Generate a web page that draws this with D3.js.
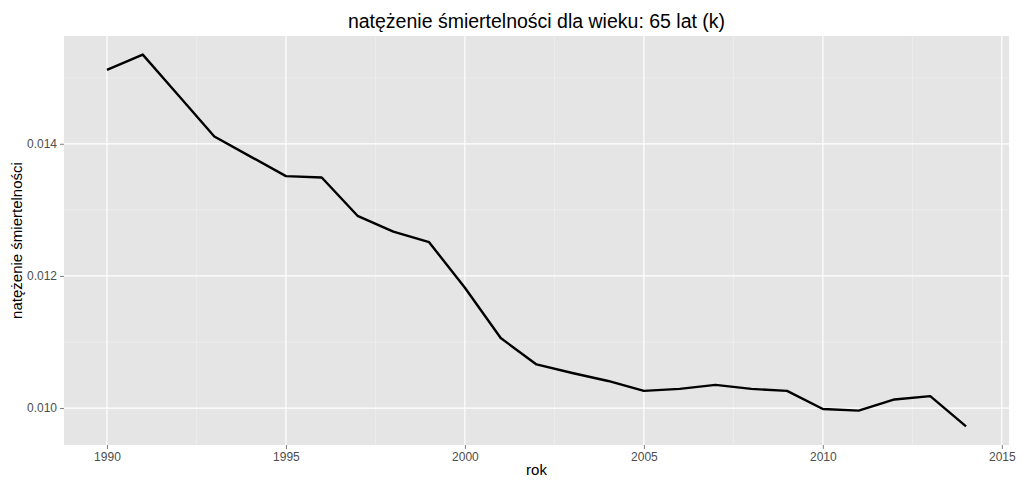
<!DOCTYPE html>
<html>
<head>
<meta charset="utf-8">
<script src="https://cdn.jsdelivr.net/npm/d3@7"></script>
<style>
  body { margin: 0; background: #fff; }
  text { font-family: "Liberation Sans", Arial, sans-serif; }
</style>
</head>
<body>
<div id="chart"></div>
<script>
// lata i natężenie zgonów
const years = [1990, 1991, 1992, 1993, 1994, 1995, 1996, 1997, 1998, 1999,
               2000, 2001, 2002, 2003, 2004, 2005, 2006, 2007, 2008, 2009,
               2010, 2011, 2012, 2013, 2014];
const rates = [0.01512, 0.01535, 0.01473, 0.01411, 0.01381, 0.01351, 0.01349, 0.01291, 0.01267, 0.01251,
               0.01182, 0.01106, 0.01066, 0.01053, 0.01041, 0.01026, 0.01029, 0.01035, 0.01029, 0.01026,
               0.009985, 0.009961, 0.01013, 0.01018, 0.009722];
const xTicks = [1990, 1995, 2000, 2005, 2010, 2015];
const yTicks = [0.010, 0.012, 0.014];
const xMinor = [1992.5, 1997.5, 2002.5, 2007.5, 2012.5];
const yMinor = [0.009, 0.011, 0.013, 0.015];

const data = years.map((y, i) => ({rok: y, v: rates[i]}));

const W = 1024, H = 487;
const margin = {top: 36, right: 15, bottom: 42, left: 64},
    width = W - margin.left - margin.right,
    height = H - margin.top - margin.bottom;

// rozszerzenie skal o 5% jak w ggplot
const xr = d3.extent(years), yr = d3.extent(rates);
const xp = (xr[1] - xr[0]) * 0.05, yp = (yr[1] - yr[0]) * 0.05;

const x = d3.scaleLinear()
    .domain([xr[0] - xp, xr[1] + xp])
    .range([0, width]);
const y = d3.scaleLinear()
    .domain([yr[0] - yp, yr[1] + yp])
    .range([height, 0]);

const svg = d3.select("#chart").append("svg")
    .attr("width", W)
    .attr("height", H);

const g = svg.append("g")
    .attr("transform", "translate(" + margin.left + "," + margin.top + ")");

// tło panelu
g.append("rect")
    .attr("width", width)
    .attr("height", height)
    .attr("fill", "#e5e5e5");

// siatka pomocnicza
g.selectAll(".xminor").data(xMinor).enter().append("line")
    .attr("x1", d => x(d)).attr("x2", d => x(d))
    .attr("y1", 0).attr("y2", height)
    .attr("stroke", "#f2f2f2").attr("stroke-width", 0.6);
g.selectAll(".yminor").data(yMinor.filter(d => d > y.domain()[0] && d < y.domain()[1])).enter().append("line")
    .attr("x1", 0).attr("x2", width)
    .attr("y1", d => y(d)).attr("y2", d => y(d))
    .attr("stroke", "#f2f2f2").attr("stroke-width", 0.6);

// siatka główna
g.selectAll(".xmajor").data(xTicks).enter().append("line")
    .attr("x1", d => x(d)).attr("x2", d => x(d))
    .attr("y1", 0).attr("y2", height)
    .attr("stroke", "#fff").attr("stroke-width", 1.2);
g.selectAll(".ymajor").data(yTicks).enter().append("line")
    .attr("x1", 0).attr("x2", width)
    .attr("y1", d => y(d)).attr("y2", d => y(d))
    .attr("stroke", "#fff").attr("stroke-width", 1.2);

// osie
const xAxis = g.append("g")
    .attr("transform", "translate(0," + height + ")")
    .call(d3.axisBottom(x).tickValues(xTicks).tickFormat(d3.format("d")).tickSize(4).tickPadding(3));
const yAxis = g.append("g")
    .call(d3.axisLeft(y).tickValues(yTicks).tickFormat(d3.format(".3f")).tickSize(4).tickPadding(3));

[xAxis, yAxis].forEach(a => {
    a.select(".domain").remove();
    a.selectAll(".tick line").attr("stroke", "#7f7f7f");
    a.selectAll(".tick text")
        .attr("fill", "#4d4d4d")
        .style("font-size", "12px")
        .style("font-family", "'Liberation Sans', Arial, sans-serif");
});

// linia
const line = d3.line()
    .x(d => x(d.rok))
    .y(d => y(d.v));

g.append("path")
    .datum(data)
    .attr("fill", "none")
    .attr("stroke", "#000")
    .attr("stroke-width", 2.4)
    .attr("stroke-linejoin", "round")
    .attr("d", line);

// tytuły
svg.append("text")
    .attr("x", margin.left + width / 2)
    .attr("y", 28)
    .attr("text-anchor", "middle")
    .style("font-size", "19.5px")
    .text("natężenie śmiertelności dla wieku: 65 lat (k)");

svg.append("text")
    .attr("x", margin.left + width / 2)
    .attr("y", 475)
    .attr("text-anchor", "middle")
    .style("font-size", "15px")
    .text("rok");

svg.append("text")
    .attr("transform", "translate(22," + (margin.top + height / 2) + ") rotate(-90)")
    .attr("text-anchor", "middle")
    .style("font-size", "15px")
    .text("natężenie śmiertelności");
</script>
</body>
</html>
